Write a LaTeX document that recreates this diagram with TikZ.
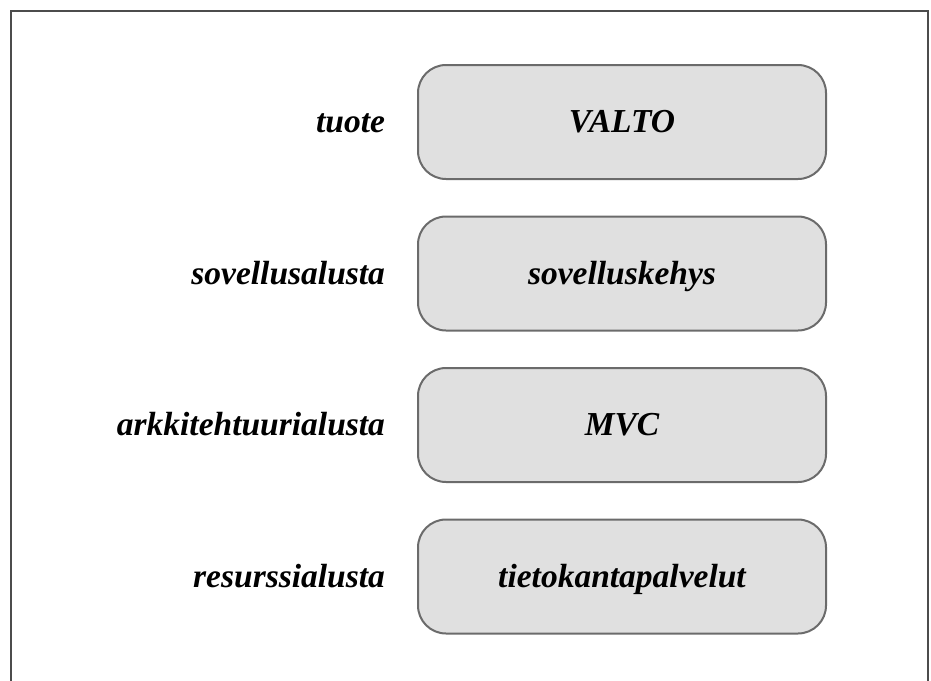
\documentclass[tikz,border=0pt]{standalone}
\usepackage{fontspec}
\setmainfont{Liberation Serif}
\usetikzlibrary{positioning}

\begin{document}
\begin{tikzpicture}[
  x=1pt, y=1pt,
  node distance=35.5pt and 28.5pt,
  layer/.style={draw=black!58,line width=2pt,rounded corners=28pt,fill=black!12,
                minimum width=408pt,minimum height=114pt,
                text height=24pt,text depth=3pt,
                font=\fontsize{33.5}{38}\selectfont\bfseries\itshape},
  tag/.style={font=\fontsize{33.5}{38}\selectfont\bfseries\itshape,anchor=east,
              text height=24pt,text depth=3pt}
]
\useasboundingbox (0,0) rectangle (931,-680);
\draw[black!70,line width=2.5pt] (11,-700) -- (11,-11) -- (928,-11) -- (928,-700);
\node[layer] (valto) at (622,-122) {VALTO};
\node[layer,below=of valto] (kehys) {sovelluskehys};
\node[layer,below=of kehys] (mvc) {MVC};
\node[layer,below=of mvc] (palvelut) {tietokantapalvelut};
\node[tag,left=of valto] (tuote) {tuote};
\node[tag,left=of kehys] (sovellus) {sovellusalusta};
\node[tag,left=of mvc] (arkkitehtuuri) {arkkitehtuurialusta};
\node[tag,left=of palvelut] (resurssi) {resurssialusta};
\end{tikzpicture}
\end{document}
